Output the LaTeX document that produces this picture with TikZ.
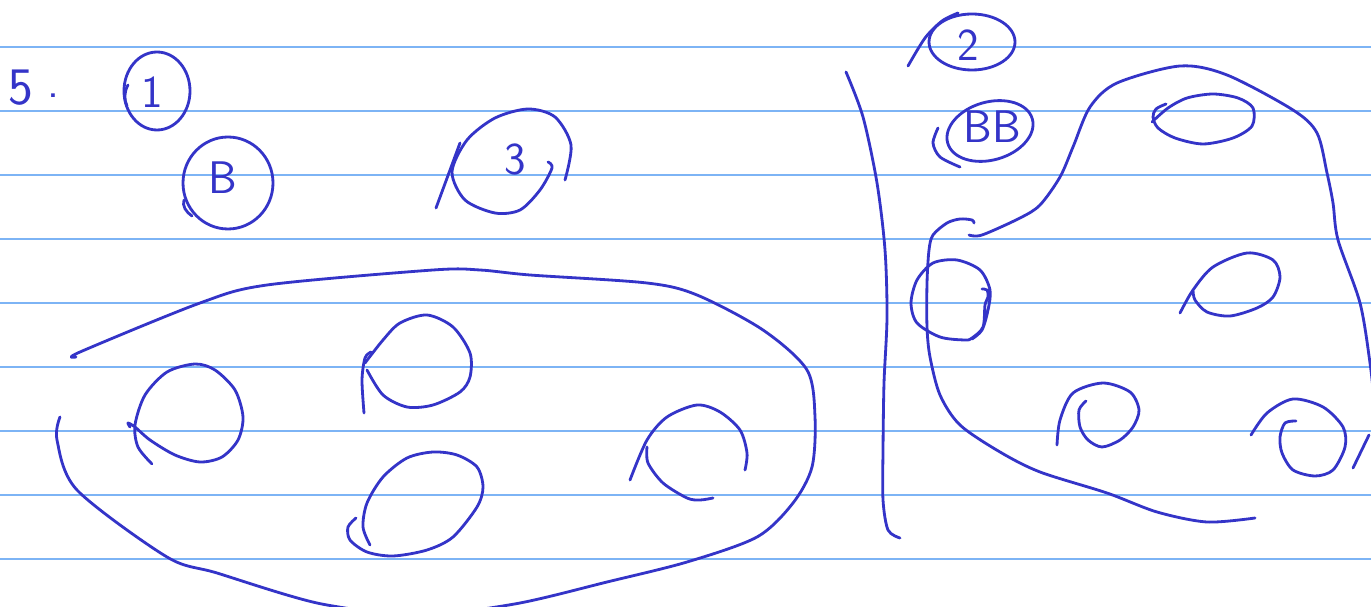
\documentclass[tikz,border=0pt]{standalone}
\usepackage{fontspec}
\usepackage{xcolor}
\usetikzlibrary{positioning}
\definecolor{inkblue}{RGB}{52,52,200}
\definecolor{ruleblue}{RGB}{125,180,245}

\begin{document}
\begin{tikzpicture}[
    x=0.02cm, y=-0.02cm,
    ink/.style={draw=inkblue, line width=1.6pt, line cap=round, line join=round},
    ruling/.style={draw=ruleblue, line width=1.1pt},
    hand/.style={text=inkblue, font=\sffamily\fontsize{26}{26}\selectfont, inner sep=0pt},
    bighand/.style={hand, font=\sffamily\fontsize{30}{30}\selectfont}
]
\useasboundingbox (0,0) rectangle (1371,607);
\clip (0,0) rectangle (1371,607);
\fill[white] (0,0) rectangle (1371,607);

\foreach \y in {47,111,...,559}
    \draw[ruling] (0,\y) -- (1371,\y);

% labels
\node[bighand] (five) at (21,88) {5};
\node[hand] (dot) at (53,96) {.};
\node[hand] (one) at (152,92) {1};
\node[hand] (bee) at (223,178) {B};
\node[hand] (three) at (515,160) {3};
\node[hand] (two) at (968,45) {2};
\node[hand] (bebe) at (992,127) {BB};

% circles round the labels
\draw[ink] (157,91) ellipse[x radius=33, y radius=39];
\draw[ink] (128,85) .. controls (124,92) and (124,100) .. (127,106);
\draw[ink] (228,183) ellipse[x radius=45, y radius=46];
\draw[ink] (184,200) .. controls (182,206) and (186,212) .. (192,216);
\draw[ink] (436,208) -- (460,143);
\draw[ink] plot[smooth] coordinates {(565,180) (571,145) (555,117) (528,109) (495,118) (467,140) (452,172) (465,200) (495,213) (520,210) (540,190) (552,168) (548,162)};
\draw[ink] (972,42) ellipse[x radius=43, y radius=28];
\draw[ink] plot[smooth] coordinates {(908,66) (925,38) (942,21) (958,13)};
\draw[ink, rotate around={16:(990,131)}] (990,131) ellipse[x radius=44, y radius=29];
\draw[ink] plot[smooth] coordinates {(938,128) (933,143) (940,157) (960,167)};

% left set
\draw[ink] plot[smooth] coordinates {(76,357) (80,352) (200,303) (267,285) (433,270) (480,270) (530,275) (647,283) (697,295) (763,330) (807,370) (815,417) (812,467) (793,503) (757,537) (687,562) (607,582) (520,603) (420,618)};
\draw[ink] plot[smooth] coordinates {(60,417) (57,440) (77,490) (167,557) (217,573) (317,603) (420,618)};
\draw[ink] plot[smooth] coordinates {(130,427) (128,423) (135,427) (150,440) (175,455) (200,462) (222,457) (238,440) (243,417) (235,390) (215,370) (195,364) (167,372) (145,395) (135,425) (138,447) (152,464)};
\draw[ink] plot[smooth] coordinates {(365,363) (383,340) (400,323) (427,315) (453,327) (470,353) (470,377) (460,392) (433,405) (407,407) (383,395) (367,370)};
\draw[ink] plot[smooth] coordinates {(371,352) (365,358) (362,380) (364,413)};
\draw[ink] plot[smooth] coordinates {(356,518) (348,527) (350,540) (367,552) (393,556) (427,550) (453,537) (477,507) (483,487) (477,467) (457,455) (433,452) (407,458) (383,477) (367,503) (363,527) (370,545)};
\draw[ink] plot[smooth] coordinates {(630,480) (647,440) (667,417) (697,405) (720,412) (740,430) (747,453) (745,470)};
\draw[ink] plot[smooth] coordinates {(647,447) (648,463) (663,483) (687,498) (700,500) (713,498)};

% divider
\draw[ink] plot[smooth] coordinates {(846,72) (863,117) (877,183) (885,250) (887,317) (884,383) (883,450) (883,500) (888,530) (900,538)};

% right set
\draw[ink] plot[smooth] coordinates {(974,223) (972,220) (960,219) (947,223) (933,235) (929,250) (927,283) (927,327) (930,357) (940,395) (960,425) (1000,452) (1040,472) (1107,493) (1157,512) (1207,522) (1255,518)};
\draw[ink] plot[smooth] coordinates {(969,235) (982,235) (1020,218) (1040,205) (1060,177) (1073,147) (1090,107) (1117,83) (1180,66) (1227,75) (1293,110) (1317,133) (1327,173) (1333,203) (1338,240) (1360,303) (1370,363) (1374,400)};
\draw[ink] (1369,435) -- (1353,468);
\draw[ink] plot[smooth] coordinates {(982,289) (987,290) (988,297) (985,305) (983,327) (972,338) (965,340) (940,337) (917,323) (911,303) (917,280) (933,263) (957,260) (980,270) (990,290) (988,310) (982,330) (972,339)};
\draw[ink] plot[smooth] coordinates {(1166,104) (1156,109) (1153,117) (1158,128) (1175,138) (1203,144) (1233,138) (1252,126) (1253,108) (1238,98) (1213,94) (1187,98) (1168,108) (1152,122)};
\draw[ink] plot[smooth] coordinates {(1180,313) (1193,290) (1213,267) (1247,253) (1273,260) (1280,277) (1273,297) (1257,308) (1230,316) (1207,312) (1195,300) (1193,290)};
\draw[ink] plot[smooth] coordinates {(1057,445) (1060,420) (1073,393) (1103,383) (1130,392) (1139,410) (1133,427) (1120,440) (1102,447) (1088,440) (1080,427) (1079,410) (1086,401)};
\draw[ink] plot[smooth] coordinates {(1251,435) (1267,413) (1293,399) (1323,407) (1343,427) (1345,447) (1333,470) (1315,476) (1293,470) (1282,453) (1280,437) (1285,423) (1296,421)};
\end{tikzpicture}
\end{document}
